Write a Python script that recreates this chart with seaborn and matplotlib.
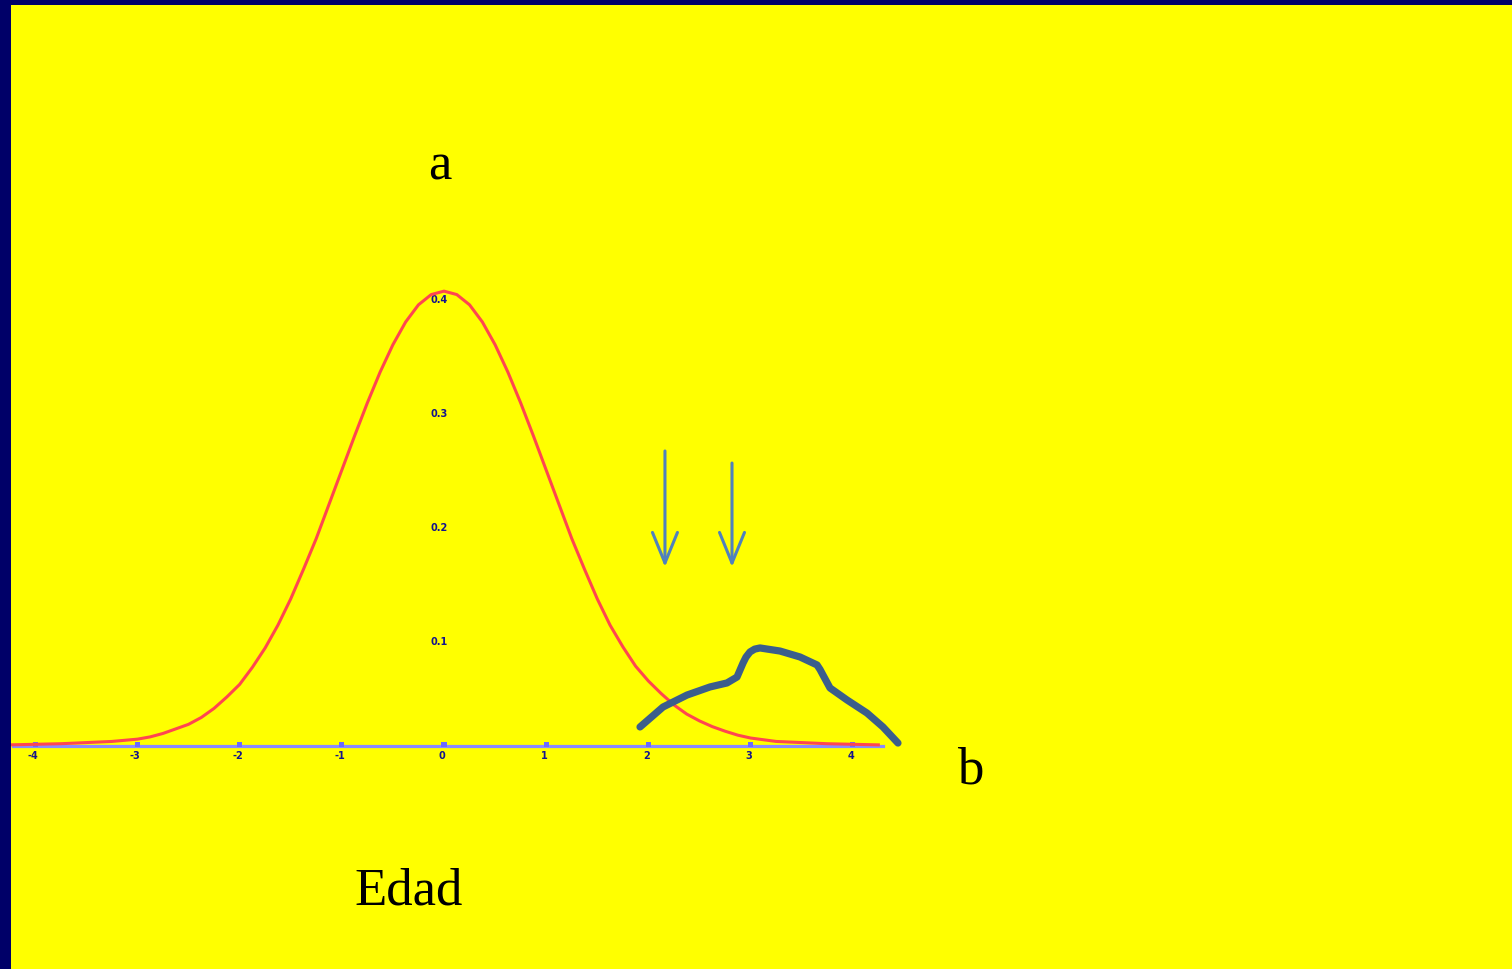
import matplotlib
matplotlib.use("Agg")
import matplotlib.pyplot as plt
import seaborn as sns
import pandas as pd

# ---- data ----
curve_x = [-4.25, -4.0, -3.75, -3.5, -3.25, -3.0, -2.875, -2.75, -2.625, -2.5, -2.375,
           -2.25, -2.125, -2.0, -1.875, -1.75, -1.625, -1.5, -1.375, -1.25, -1.125,
           -1.0, -0.875, -0.75, -0.625, -0.5, -0.375, -0.25, -0.125, 0.0,
           0.125, 0.25, 0.375, 0.5, 0.625, 0.75, 0.875, 1.0, 1.125, 1.25, 1.375,
           1.5, 1.625, 1.75, 1.875, 2.0, 2.125, 2.25, 2.375, 2.5, 2.625, 2.75, 2.875,
           3.0, 3.25, 3.5, 3.75, 4.0, 4.25]
curve_y = [0.001, 0.0015, 0.002, 0.003, 0.004, 0.006, 0.008, 0.011, 0.015, 0.019, 0.025,
           0.033, 0.043, 0.054, 0.069, 0.086, 0.106, 0.129, 0.155, 0.182, 0.212,
           0.242, 0.272, 0.301, 0.328, 0.352, 0.372, 0.387, 0.396, 0.399,
           0.396, 0.387, 0.372, 0.352, 0.328, 0.301, 0.272, 0.242, 0.212, 0.182, 0.155,
           0.129, 0.106, 0.087, 0.070, 0.057, 0.046, 0.036, 0.028, 0.022, 0.017, 0.013, 0.0095,
           0.007, 0.004, 0.003, 0.002, 0.0015, 0.001]

blob_x = [1.918, 2.143, 2.378, 2.603, 2.769, 2.867, 2.926, 2.955, 2.994, 3.04, 3.092,
          3.288, 3.483, 3.650, 3.680, 3.708, 3.777, 3.943, 4.139, 4.295, 4.442]
blob_y = [0.0167, 0.0342, 0.0447, 0.0518, 0.0553, 0.0605, 0.0728, 0.0780, 0.0825, 0.0850,
          0.0860, 0.0833, 0.0781, 0.0711, 0.0670, 0.0623, 0.0509, 0.0404, 0.0289, 0.0167,
          0.0026]

x_ticks = [-4, -3, -2, -1, 0, 1, 2, 3, 4]
x_tick_labels = ["-4", "-3", "-2", "-1", "0", "1", "2", "3", "4"]
y_ticks = [0.1, 0.2, 0.3, 0.4]
y_tick_labels = ["0.1", "0.2", "0.3", "0.4"]

arrow_x = [2.162, 2.818]
arrow_top = [0.2588, 0.2482]
arrow_bottom = [0.157, 0.157]

axis_range = [-4.22, 4.30]

# ---- figure ----
W, H = 1512, 969
fig = plt.figure(figsize=(W / 100, H / 100), dpi=100, facecolor="#000068")
left_px, top_px = 11, 5
ax = fig.add_axes([left_px / W, 0, 1 - left_px / W, 1 - top_px / H])
ax.set_facecolor("#ffff00")

px_per_x = 102.2
px_per_y = 1140.0
x0_px, y0_px = 444.0, 746.0
ax.set_xlim((left_px - x0_px) / px_per_x, (W - x0_px) / px_per_x)
ax.set_ylim((y0_px - H) / px_per_y, (y0_px - top_px) / px_per_y)
for s in ax.spines.values():
    s.set_visible(False)
ax.set_xticks([])
ax.set_yticks([])

# horizontal axis line
sns.lineplot(x=axis_range, y=[0, 0], ax=ax, color="#8a8aff", lw=2.3, zorder=2)
# tick marks
sns.scatterplot(x=x_ticks, y=[0.0015] * len(x_ticks), ax=ax, marker="s", s=14,
                color="#6a6aff", edgecolor="none", zorder=3)

# normal curve
df = pd.DataFrame({"x": curve_x, "y": curve_y})
sns.lineplot(data=df, x="x", y="y", ax=ax, color="#ff4650", lw=2.2, zorder=4,
             sort=False)

# tick labels (small, dark blue)
for v, lab in zip(x_ticks, x_tick_labels):
    ax.text(v - 0.02, -0.004, lab, ha="center", va="top", fontsize=7,
            fontweight="bold", color="#14148c", family="DejaVu Sans")
for v, lab in zip(y_ticks, y_tick_labels):
    ax.text(-0.05, v - 0.009, lab, ha="center", va="center", fontsize=7,
            fontweight="bold", color="#14148c", family="DejaVu Sans")

# hand drawn blob
bdf = pd.DataFrame({"x": blob_x, "y": blob_y})
sns.lineplot(data=bdf, x="x", y="y", ax=ax, color="#3b5e8c", lw=5.2,
             sort=False, zorder=5)
for l in ax.lines[-1:]:
    l.set_solid_capstyle("round")
    l.set_solid_joinstyle("round")

# arrows
for xa, yt, yb in zip(arrow_x, arrow_top, arrow_bottom):
    ax.annotate("", xy=(xa, yb), xytext=(xa, yt),
                arrowprops=dict(arrowstyle="->,head_length=1.1,head_width=0.45",
                                color="#4f81bd", lw=2.2, shrinkA=0, shrinkB=0,
                                mutation_scale=20), zorder=6)

ax.set_xlabel("")
ax.set_ylabel("")

# labels
serif = ["Liberation Serif", "DejaVu Serif"]
ax.text(-0.04, 0.4965, "a", ha="center", va="baseline", fontsize=38, family=serif, color="black")
ax.text(5.147, -0.0325, "b", ha="center", va="baseline", fontsize=38, family=serif, color="black")
ax.text(-0.342, -0.1386, "Edad", ha="center", va="baseline", fontsize=38, family=serif, color="black")

fig.savefig("out.png", dpi=100, facecolor=fig.get_facecolor())
